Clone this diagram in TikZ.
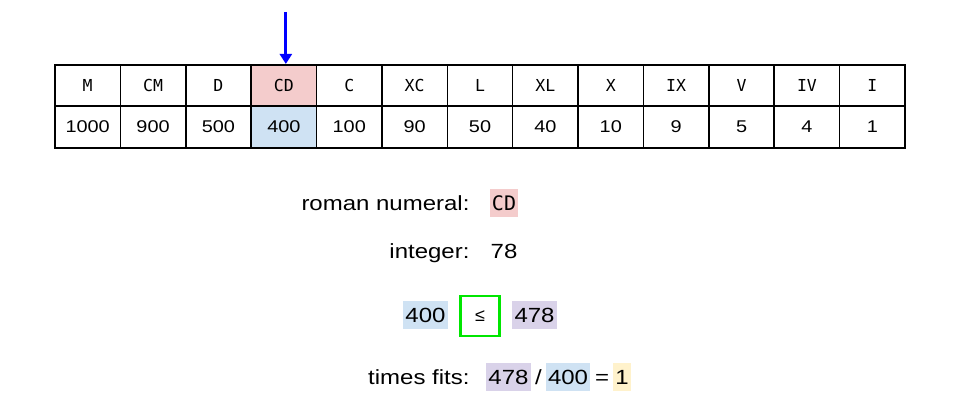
\documentclass[tikz,border=0pt]{standalone}
\usepackage{fontspec}
\setmainfont{Liberation Sans}
\newfontfamily\widefont[FakeStretch=1.17]{Liberation Sans}
\newfontfamily\monofont{DejaVu Sans Mono}
\usetikzlibrary{arrows.meta}

\definecolor{numpink}{HTML}{F4CCCC}
\definecolor{valblue}{HTML}{CFE2F3}
\definecolor{restpurple}{HTML}{D9D2E9}
\definecolor{fitsyellow}{HTML}{FFF2CC}
\definecolor{cmpgreen}{HTML}{00E600}

\tikzset{
  cell/.style={draw=black, line width=1.6pt, minimum width=65.4pt, minimum height=41.5pt, inner sep=0pt},
  label/.style={anchor=base east, font=\widefont\fontsize{20.5}{24}\selectfont},
  hl/.style={font=\widefont\fontsize{20.5}{24}\selectfont, inner xsep=2pt, minimum height=28pt, anchor=base, text depth=0pt, text height=14.5pt}
}

\begin{document}
\begin{tikzpicture}[x=1pt,y=-1pt]
  \useasboundingbox (0,0) rectangle (960,400);

  % value table
  \foreach \r/\v/\rf/\vf [count=\i from 0] in {M/1000/white/white, CM/900/white/white, D/500/white/white,
      CD/400/numpink/valblue, C/100/white/white, XC/90/white/white, L/50/white/white, XL/40/white/white,
      X/10/white/white, IX/9/white/white, V/5/white/white, IV/4/white/white, I/1/white/white} {
    \node[cell, fill=\rf, font=\monofont\fontsize{16.5}{18}\selectfont] (r\i) at ({55+65.385*(\i+0.5)},85.5) {\r};
    \node[cell, fill=\vf, font=\widefont\fontsize{17}{20}\selectfont] (v\i) at ({55+65.385*(\i+0.5)},127) {\v};
  }

  % pointer
  \coordinate (top) at ([xshift=2pt,yshift=52pt]r3.north);
  \draw[blue, line width=3pt, -{Triangle[length=10pt,width=12pt]}] (top) -- (top |- r3.north);

  % current state
  \node[label] (lroman) at (473,210) {roman numeral:};
  \node[hl, fill=numpink, font=\monofont\fontsize{20}{24}\selectfont] (sroman) at (504,210) {CD};

  \node[label] (lint) at (473,258) {integer:};
  \node[hl] (sint) at (504,258) {78};

  \node[hl, fill=valblue] (cmpa) at (425.5,322) {400};
  \node[draw=cmpgreen, line width=2.5pt, minimum width=39pt, minimum height=40pt, inner sep=0pt,
        font=\fontsize{18}{20}\selectfont] (cmpop) at (480,316) {≤};
  \node[hl, fill=restpurple] (cmpb) at (534.5,322) {478};

  \node[label] (lfits) at (473,384) {times fits:};
  \node[hl, fill=restpurple] (fa) at (508.5,384) {478};
  \node[hl] (fslash) at (538.5,384) {/};
  \node[hl, fill=valblue] (fb) at (568,384) {400};
  \node[hl] (feq) at (602,384) {=};
  \node[hl, fill=fitsyellow] (fres) at (622,384) {1};
\end{tikzpicture}
\end{document}
